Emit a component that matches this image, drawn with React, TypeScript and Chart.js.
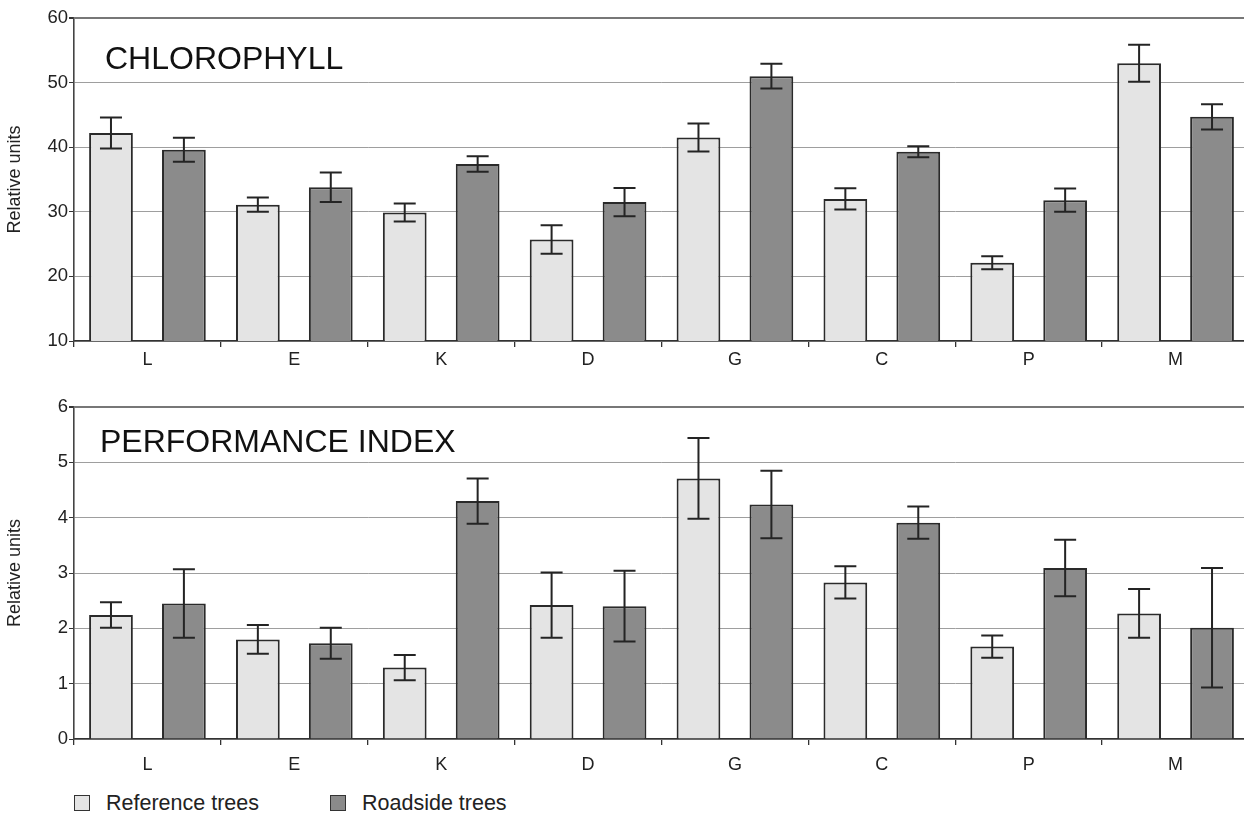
import React, { useEffect, useRef } from "react";
import { Chart, registerables } from "chart.js";

Chart.register(...registerables);

const categories = ["L", "E", "K", "D", "G", "C", "P", "M"];
const seriesLabels = ["Reference trees", "Roadside trees"];

const chlReference = [42.2, 31.1, 29.9, 25.7, 41.5, 32.0, 22.1, 53.0];
const chlReferenceErr = [2.4, 1.1, 1.4, 2.2, 2.15, 1.65, 1.0, 2.85];
const chlRoadside = [39.6, 33.8, 37.4, 31.5, 51.0, 39.3, 31.8, 44.7];
const chlRoadsideErr = [1.85, 2.3, 1.2, 2.2, 1.9, 0.85, 1.8, 1.95];

const piReference = [2.24, 1.8, 1.29, 2.42, 4.71, 2.83, 1.67, 2.27];
const piReferenceErr = [0.23, 0.26, 0.23, 0.59, 0.73, 0.29, 0.2, 0.44];
const piRoadside = [2.45, 1.73, 4.3, 2.4, 4.24, 3.91, 3.09, 2.01];
const piRoadsideErr = [0.62, 0.28, 0.41, 0.64, 0.61, 0.29, 0.51, 1.08];

const chlAxis = { min: 10, max: 60, step: 10 };
const piAxis = { min: 0, max: 6, step: 1 };

const FONT = "'Liberation Sans', Arial, Helvetica, sans-serif";
const REF_COLOR = "#e4e4e4";
const ROAD_COLOR = "#8b8b8b";
const EDGE = "#2a2a2a";

type PanelProps = {
  top: number;
  height: number;
  padTop: number;
  xHeight: number;
  labelPad: number;
  title: string;
  titleDx: number;
  titleDy: number;
  refData: number[];
  refErr: number[];
  roadData: number[];
  roadErr: number[];
  axis: { min: number; max: number; step: number };
};

function Panel(p: PanelProps) {
  const ref = useRef<HTMLCanvasElement | null>(null);
  useEffect(() => {
    if (!ref.current) return;
    const errorBars = {
      id: "errorBars",
      afterDatasetsDraw(chart: any) {
        const ctx = chart.ctx;
        const ys = chart.scales.y;
        chart.data.datasets.forEach((ds: any, di: number) => {
          const meta = chart.getDatasetMeta(di);
          meta.data.forEach((bar: any, i: number) => {
            const v = ds.data[i];
            const e = ds.errors[i];
            const x = bar.x;
            const yt = ys.getPixelForValue(v + e);
            const yb = ys.getPixelForValue(v - e);
            ctx.save();
            ctx.strokeStyle = "#242424";
            ctx.lineWidth = 2;
            ctx.beginPath();
            ctx.moveTo(x, yt);
            ctx.lineTo(x, yb);
            ctx.moveTo(x - 11, yt);
            ctx.lineTo(x + 11, yt);
            ctx.moveTo(x - 11, yb);
            ctx.lineTo(x + 11, yb);
            ctx.stroke();
            ctx.restore();
          });
        });
      },
    };
    const panelTitle = {
      id: "panelTitle",
      afterDraw(chart: any) {
        const ctx = chart.ctx;
        const a = chart.chartArea;
        ctx.save();
        ctx.font = `32px ${FONT}`;
        ctx.fillStyle = "#111";
        ctx.textBaseline = "middle";
        ctx.textAlign = "left";
        ctx.fillText(p.title, a.left + p.titleDx, a.top + p.titleDy);
        ctx.restore();
      },
    };
    const max = p.axis.max;
    const chart = new Chart(ref.current, {
      type: "bar",
      data: {
        labels: categories,
        datasets: [
          {
            label: seriesLabels[0],
            data: p.refData,
            errors: p.refErr,
            backgroundColor: REF_COLOR,
            borderColor: EDGE,
            borderWidth: 2,
            categoryPercentage: 0.993,
            barPercentage: 0.6,
          } as any,
          {
            label: seriesLabels[1],
            data: p.roadData,
            errors: p.roadErr,
            backgroundColor: ROAD_COLOR,
            borderColor: EDGE,
            borderWidth: 2,
            categoryPercentage: 0.993,
            barPercentage: 0.6,
          } as any,
        ],
      },
      options: {
        responsive: false,
        animation: false,
        devicePixelRatio: 1,
        layout: { padding: { top: p.padTop, left: 0, right: 1, bottom: 0 } },
        plugins: {
          legend: { display: false },
          tooltip: { enabled: false },
        },
        scales: {
          x: {
            grid: {
              drawOnChartArea: false,
              offset: true,
              tickLength: 6,
              tickColor: "#333",
              lineWidth: 1.3,
            },
            border: { color: "#333", width: 1.6 },
            ticks: {
              font: { family: FONT, size: 18 },
              color: "#222",
              padding: p.labelPad,
            },
            afterFit: (s: any) => {
              s.height = p.xHeight;
            },
          },
          y: {
            min: p.axis.min,
            max: p.axis.max,
            ticks: {
              stepSize: p.axis.step,
              font: { family: FONT, size: 18.5 },
              color: "#222",
              padding: 1,
            },
            grid: {
              color: (c: any) => (c.tick && c.tick.value === max ? "#777" : "#9e9e9e"),
              lineWidth: (c: any) => (c.tick && c.tick.value === max ? 2 : 1),
              tickLength: 5,
              tickColor: "#333",
            },
            border: { color: "#444", width: 1.6 },
            title: {
              display: true,
              text: "Relative units",
              font: { family: FONT, size: 18 },
              color: "#222",
              padding: { top: 4, bottom: 0 },
            },
            afterFit: (s: any) => {
              s.width = 74;
            },
          },
        },
      } as any,
      plugins: [errorBars, panelTitle],
    });
    return () => chart.destroy();
  }, []);
  return (
    <canvas
      ref={ref}
      width={1250}
      height={p.height}
      style={{ position: "absolute", left: 0, top: p.top, width: 1250, height: p.height }}
    />
  );
}

function LegendItem({ left, color, text }: { left: number; color: string; text: string }) {
  return (
    <>
      <div
        style={{
          position: "absolute",
          left,
          top: 795,
          width: 14,
          height: 14,
          background: color,
          border: "1px solid #333",
        }}
      />
      <div
        style={{
          position: "absolute",
          left: left + 32,
          top: 791,
          fontFamily: FONT,
          fontSize: 21.5,
          lineHeight: "24px",
          color: "#222",
          whiteSpace: "nowrap",
        }}
      >
        {text}
      </div>
    </>
  );
}

export default function App() {
  return (
    <div
      style={{
        position: "absolute",
        left: 0,
        top: 0,
        width: 1244,
        height: 814,
        overflow: "hidden",
        background: "#fff",
      }}
    >
      <Panel
        top={0}
        height={380}
        padTop={18}
        xHeight={39}
        labelPad={2}
        title="CHLOROPHYLL"
        titleDx={31}
        titleDy={42}
        refData={chlReference}
        refErr={chlReferenceErr}
        roadData={chlRoadside}
        roadErr={chlRoadsideErr}
        axis={chlAxis}
      />
      <Panel
        top={390}
        height={395}
        padTop={17}
        xHeight={46}
        labelPad={9}
        title="PERFORMANCE INDEX"
        titleDx={26}
        titleDy={36}
        refData={piReference}
        refErr={piReferenceErr}
        roadData={piRoadside}
        roadErr={piRoadsideErr}
        axis={piAxis}
      />
      <LegendItem left={74} color={REF_COLOR} text={seriesLabels[0]} />
      <LegendItem left={330} color={ROAD_COLOR} text={seriesLabels[1]} />
    </div>
  );
}
